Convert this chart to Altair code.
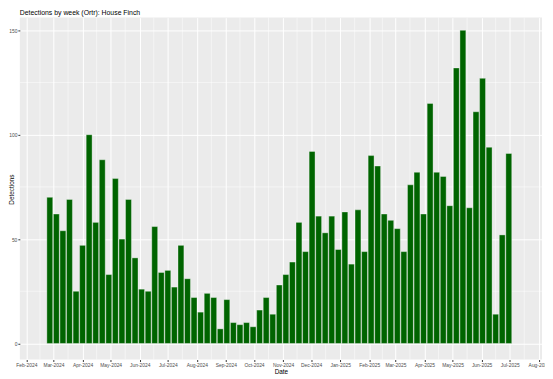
import altair as alt
import pandas as pd

# Weekly detections (week starting Monday)
week_first = "2024-02-26"
n_weeks = 71
counts = [70, 62, 54, 69, 25, 47, 100, 58, 88, 33, 79, 50, 69, 41, 26, 25, 56, 34, 35, 27,
          47, 31, 22, 15, 24, 22, 7, 21, 10, 9, 10, 8, 16, 22, 14, 28, 33,
          39, 58, 44, 92, 61, 53, 61, 45, 63, 38, 64, 44, 90, 85, 62, 59, 55, 44, 76, 82,
          62, 115, 82, 80, 66, 132, 150, 65, 111, 127, 94, 14, 52, 91]

y_major = [0, 50, 100, 150]
y_minor = [25, 75, 125]
month_ticks = pd.date_range("2024-02-01", "2025-08-01", freq="MS")

weeks = pd.date_range(week_first, periods=n_weeks, freq="7D")
half = pd.Timedelta(days=3.15)
fmt = "%Y-%m-%dT%H:%M:%S"
df = pd.DataFrame({
    "week": weeks.strftime(fmt),
    "start": (weeks - half).strftime(fmt),
    "end": (weeks + half).strftime(fmt),
    "Detections": counts,
})

mids = month_ticks[:-1] + (month_ticks[1:] - month_ticks[:-1]) / 2
minor_x = pd.DataFrame({"d": mids.strftime(fmt)})
minor_y = pd.DataFrame({"v": y_minor})

xdomain = [alt.DateTime(year=2024, month=1, date=25),
           alt.DateTime(year=2025, month=8, date=4, hours=12)]
xscale = alt.Scale(domain=xdomain, nice=False)
yscale = alt.Scale(domain=[-7.7, 156.1], nice=False, zero=False)

tick_values = [alt.DateTime(year=int(d.year), month=int(d.month), date=1) for d in month_ticks]

xaxis = alt.Axis(values=tick_values, format="%b-%Y", title="Date", labelFontSize=5,
                 labelColor="#4d4d4d", tickColor="#333333", tickSize=2, domain=False,
                 gridColor="white", gridWidth=1, labelOverlap=False, labelFlush=False,
                 titleFontSize=6.5, titleFontWeight="normal", titleColor="black",
                 labelPadding=1, titlePadding=1, labelFont="Liberation Sans",
                 titleFont="Liberation Sans")
yaxis = alt.Axis(values=y_major, title="Detections", labelFontSize=5,
                 labelColor="#4d4d4d", tickColor="#333333", tickSize=2, domain=False,
                 gridColor="white", gridWidth=1, titleFontSize=6.5,
                 titleFontWeight="normal", titleColor="black", labelPadding=1,
                 titleX=-8, titleY=174, titleBaseline="middle", titleAlign="center",
                 titleAngle=270,
                 labelFont="Liberation Sans", titleFont="Liberation Sans")

gx = alt.Chart(minor_x).mark_rule(color="white", strokeWidth=0.5).encode(
    x=alt.X("d:T", scale=xscale, axis=xaxis))
gy = alt.Chart(minor_y).mark_rule(color="white", strokeWidth=0.5).encode(
    y=alt.Y("v:Q", scale=yscale, axis=yaxis))

bars = alt.Chart(df).mark_bar(color="#006400", stroke="white", strokeWidth=0.35).encode(
    x=alt.X("start:T", scale=xscale, axis=xaxis),
    x2="end:T",
    y=alt.Y("Detections:Q", scale=yscale, axis=yaxis),
    y2=alt.datum(0),
)

chart = alt.layer(gx, gy, bars).properties(
    width=530, height=347,
    title=alt.TitleParams("Detections by week (Ortr): House Finch", anchor="start",
                          frame="group", fontSize=7, fontWeight="normal", color="black",
                          font="Liberation Sans", offset=1),
    autosize=alt.AutoSizeParams(type="none"),
    padding={"left": 12, "top": 7, "right": 3, "bottom": 17},
).configure_view(fill="#EBEBEB", stroke=None)

chart.save("out.html", embed_options={"renderer": "svg", "actions": False})
